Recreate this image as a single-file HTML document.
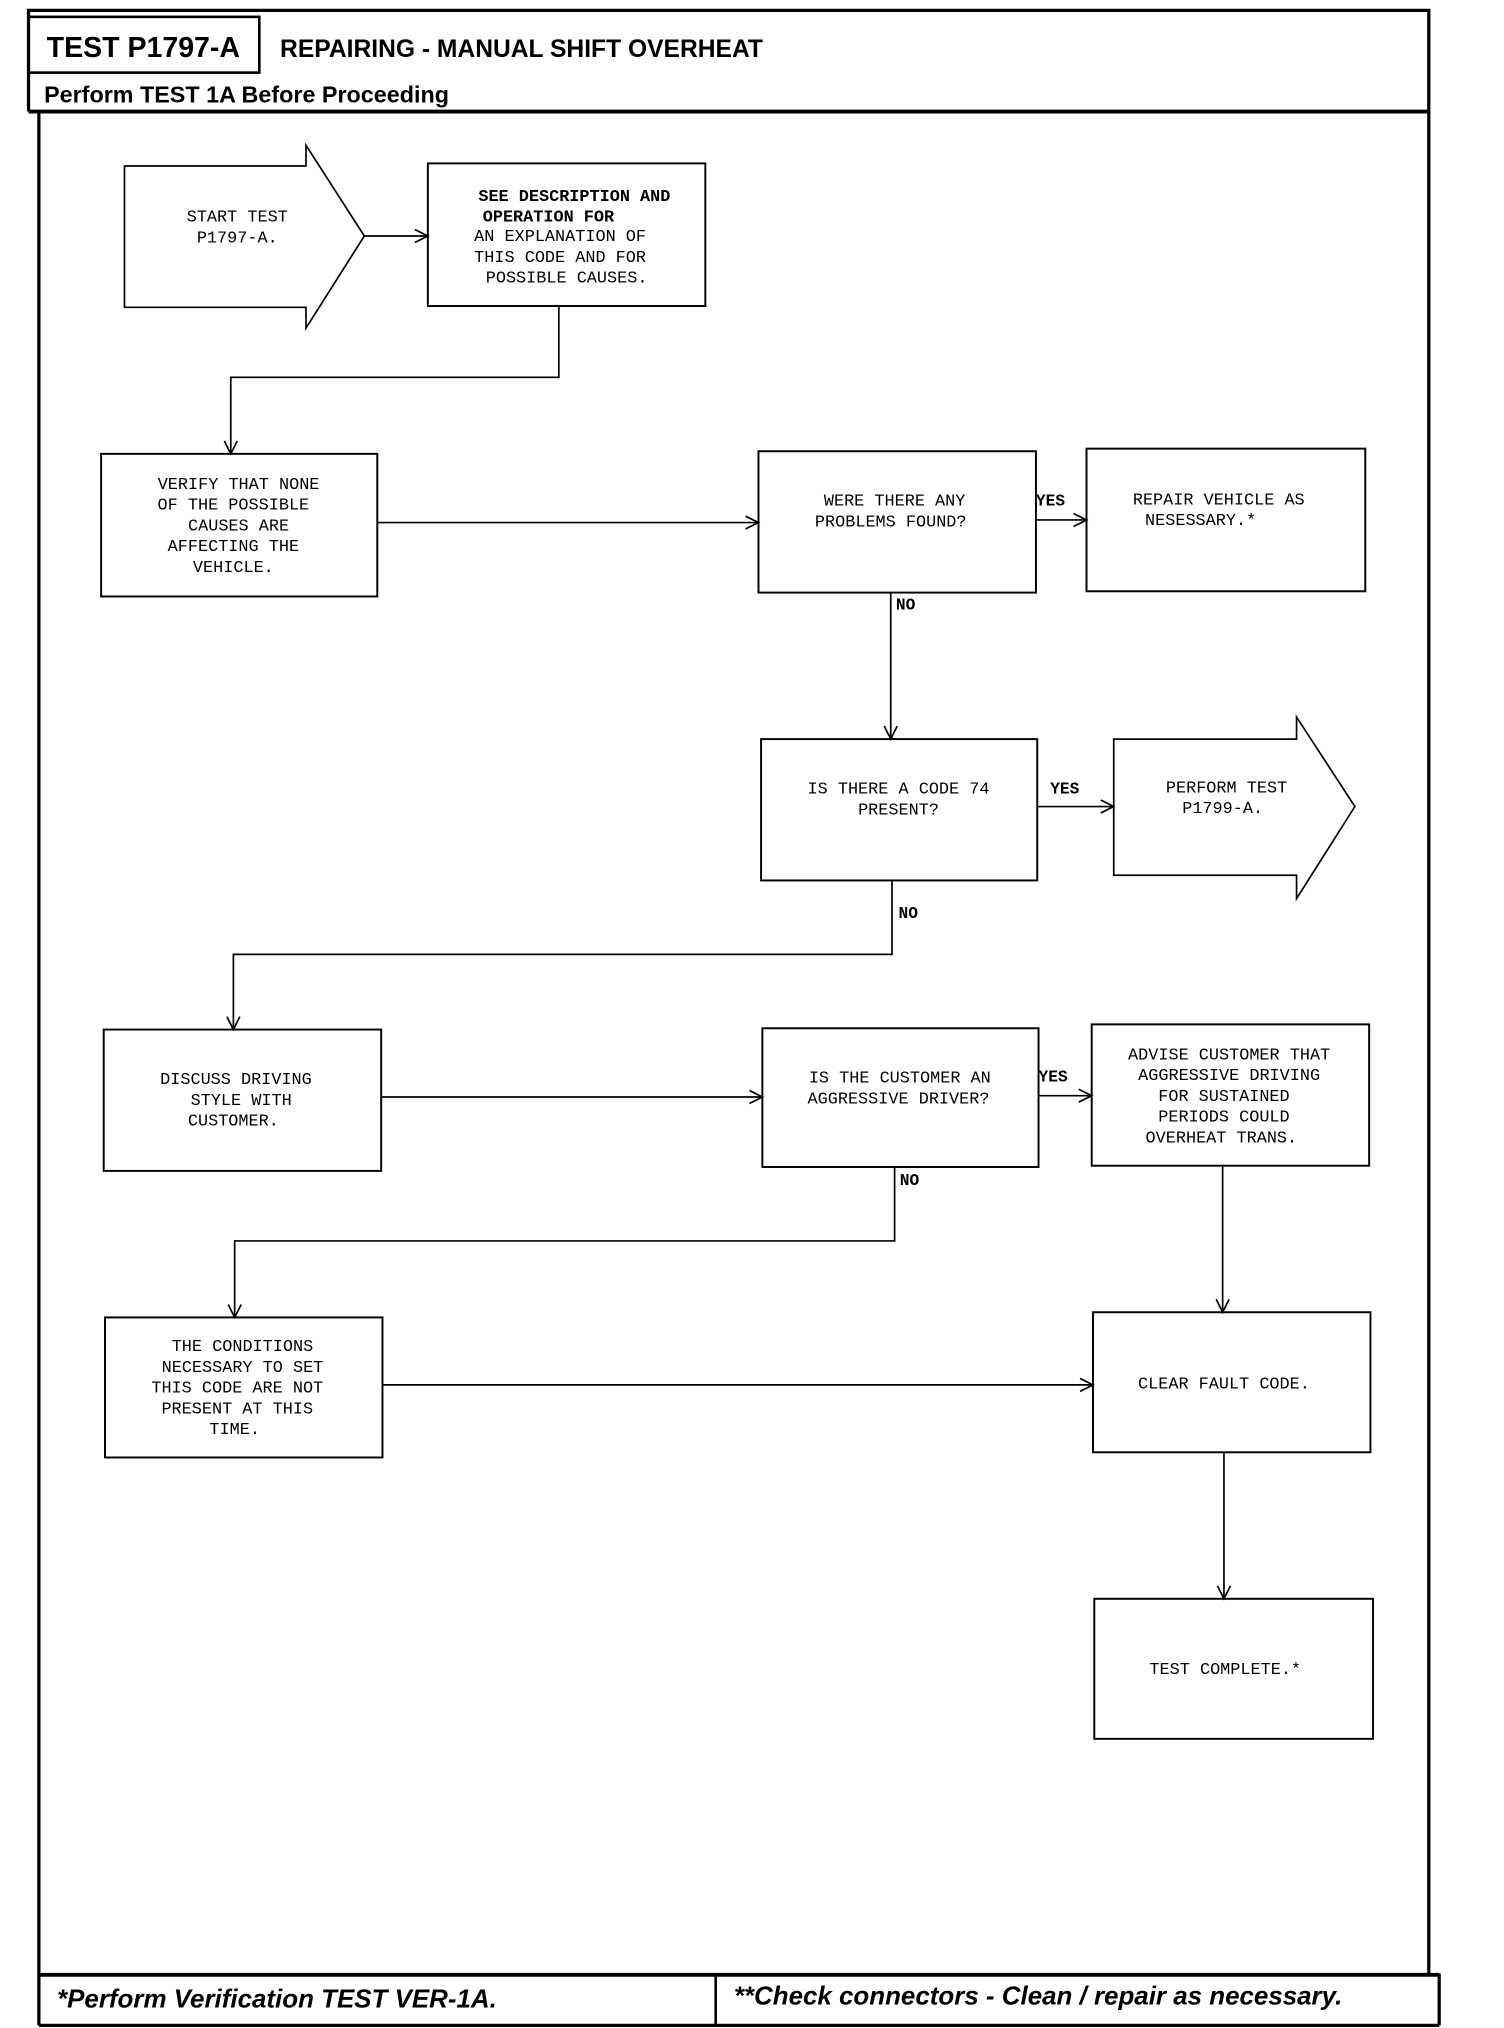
<!DOCTYPE html>
<html><head><meta charset="utf-8"><style>
html,body{margin:0;padding:0;background:#fff;}
svg{display:block;}
.m{font-family:"Liberation Mono",monospace;font-size:13px;fill:#000;text-anchor:middle;}
.l{font-family:"Liberation Mono",monospace;font-size:12.5px;font-weight:bold;fill:#000;}
.h{font-family:"Liberation Sans",sans-serif;font-weight:bold;fill:#000;}
</style></head><body>
<svg width="1504" height="2028" viewBox="0 0 1160 1564" preserveAspectRatio="none" xmlns="http://www.w3.org/2000/svg">
<g fill="none" stroke="#000">
<!-- frame -->
<polyline points="22,86 22,8 1102,8 1102,1522" stroke-width="2.5"/>
<line x1="30" y1="86" x2="30" y2="1562" stroke-width="2.5"/>
<line x1="1110" y1="1522" x2="1110" y2="1562" stroke-width="2.5"/>
<line x1="22" y1="86" x2="1102" y2="86" stroke-width="3"/>
<rect x="22" y="13" width="178" height="43" stroke-width="2"/>
<line x1="30" y1="1523" x2="1110" y2="1523" stroke-width="3"/>
<line x1="30" y1="1562" x2="1110" y2="1562" stroke-width="2.5"/>
<line x1="552" y1="1523" x2="552" y2="1562" stroke-width="2"/>
<!-- shapes -->
<polygon points="96,128 236,128 236,112 281,182 236,253 236,237 96,237" stroke-width="1.3"/>
<rect x="330" y="126" width="214" height="110" stroke-width="1.5"/>
<rect x="78" y="350" width="213" height="110" stroke-width="1.5"/>
<rect x="585" y="348" width="214" height="109" stroke-width="1.5"/>
<rect x="838" y="346" width="215" height="110" stroke-width="1.5"/>
<rect x="587" y="570" width="213" height="109" stroke-width="1.5"/>
<polygon points="859,570 1000,570 1000,553 1045,622 1000,693 1000,675 859,675" stroke-width="1.3"/>
<rect x="80" y="794" width="214" height="109" stroke-width="1.5"/>
<rect x="588" y="793" width="213" height="107" stroke-width="1.5"/>
<rect x="842" y="790" width="214" height="109" stroke-width="1.5"/>
<rect x="81" y="1016" width="214" height="108" stroke-width="1.5"/>
<rect x="843" y="1012" width="214" height="108" stroke-width="1.5"/>
<rect x="844" y="1233" width="215" height="108" stroke-width="1.5"/>
<!-- connectors -->
<g stroke-width="1.3">
<line x1="281" y1="182" x2="330" y2="182"/>
<polyline points="431,236 431,291 178,291 178,350"/>
<line x1="291" y1="403" x2="585" y2="403"/>
<line x1="799" y1="401" x2="838" y2="401"/>
<line x1="687" y1="457" x2="687" y2="570"/>
<line x1="800" y1="622" x2="859" y2="622"/>
<polyline points="688,679 688,736 180,736 180,794"/>
<line x1="294" y1="846" x2="588" y2="846"/>
<line x1="801" y1="845" x2="842" y2="845"/>
<line x1="943" y1="899" x2="943" y2="1012"/>
<polyline points="690,900 690,957 181,957 181,1016"/>
<line x1="295" y1="1068" x2="843" y2="1068"/>
<line x1="944" y1="1120" x2="944" y2="1233"/>
</g>
<!-- arrowheads -->
<g stroke-width="1.3">
<polyline points="320,177 330,182 320,187"/>
<polyline points="173,340 178,350 183,340"/>
<polyline points="575,398 585,403 575,408"/>
<polyline points="828,396 838,401 828,406"/>
<polyline points="682,560 687,570 692,560"/>
<polyline points="849,617 859,622 849,627"/>
<polyline points="175,784 180,794 185,784"/>
<polyline points="578,841 588,846 578,851"/>
<polyline points="832,840 842,845 832,850"/>
<polyline points="938,1002 943,1012 948,1002"/>
<polyline points="176,1006 181,1016 186,1006"/>
<polyline points="833,1063 843,1068 833,1073"/>
<polyline points="939,1223 944,1233 949,1223"/>
</g>
</g>
<!-- header text -->
<text class="h" x="36" y="44" font-size="22">TEST P1797-A</text>
<text class="h" x="216" y="44" font-size="19">REPAIRING - MANUAL SHIFT OVERHEAT</text>
<text class="h" x="34" y="79" font-size="18">Perform TEST 1A Before Proceeding</text>
<text class="h" x="44" y="1548" font-size="20" font-style="italic">*Perform Verification TEST VER-1A.</text>
<text class="h" x="566" y="1546" font-size="20" font-style="italic">**Check connectors - Clean / repair as necessary.</text>
<!-- node text -->
<text class="m" x="183" y="171">START TEST</text>
<text class="m" x="183" y="187">P1797-A.</text>
<text class="m" x="443" y="155" font-family="Liberation Sans" font-weight="bold" font-size="12.5">SEE DESCRIPTION AND</text>
<text class="m" x="423" y="171" font-family="Liberation Sans" font-weight="bold" font-size="12.5">OPERATION FOR</text>
<text class="m" x="432" y="186">AN EXPLANATION OF</text>
<text class="m" x="432" y="202">THIS CODE AND FOR</text>
<text class="m" x="437" y="218">POSSIBLE CAUSES.</text>
<text class="m" x="184" y="377">VERIFY THAT NONE</text>
<text class="m" x="180" y="393">OF THE POSSIBLE</text>
<text class="m" x="184" y="409">CAUSES ARE</text>
<text class="m" x="180" y="425">AFFECTING THE</text>
<text class="m" x="180" y="441">VEHICLE.</text>
<text class="m" x="690" y="390">WERE THERE ANY</text>
<text class="m" x="687" y="406">PROBLEMS FOUND?</text>
<text class="m" x="940" y="389">REPAIR VEHICLE AS</text>
<text class="m" x="926" y="405">NESESSARY.*</text>
<text class="m" x="693" y="612">IS THERE A CODE 74</text>
<text class="m" x="693" y="628">PRESENT?</text>
<text class="m" x="946" y="611">PERFORM TEST</text>
<text class="m" x="943" y="627">P1799-A.</text>
<text class="m" x="182" y="836">DISCUSS DRIVING</text>
<text class="m" x="186" y="852">STYLE WITH</text>
<text class="m" x="180" y="868">CUSTOMER.</text>
<text class="m" x="694" y="835">IS THE CUSTOMER AN</text>
<text class="m" x="693" y="851">AGGRESSIVE DRIVER?</text>
<text class="m" x="948" y="817">ADVISE CUSTOMER THAT</text>
<text class="m" x="948" y="833">AGGRESSIVE DRIVING</text>
<text class="m" x="944" y="849">FOR SUSTAINED</text>
<text class="m" x="944" y="865">PERIODS COULD</text>
<text class="m" x="942" y="881">OVERHEAT TRANS.</text>
<text class="m" x="187" y="1042">THE CONDITIONS</text>
<text class="m" x="187" y="1058">NECESSARY TO SET</text>
<text class="m" x="183" y="1074">THIS CODE ARE NOT</text>
<text class="m" x="183" y="1090">PRESENT AT THIS</text>
<text class="m" x="181" y="1106">TIME.</text>
<text class="m" x="944" y="1071">CLEAR FAULT CODE.</text>
<text class="m" x="945" y="1291">TEST COMPLETE.*</text>
<!-- connector labels -->
<text class="l" x="799" y="390">YES</text>
<text class="l" x="691" y="470">NO</text>
<text class="l" x="810" y="612">YES</text>
<text class="l" x="693" y="708">NO</text>
<text class="l" x="801" y="834">YES</text>
<text class="l" x="694" y="914">NO</text>
</svg>
</body></html>
